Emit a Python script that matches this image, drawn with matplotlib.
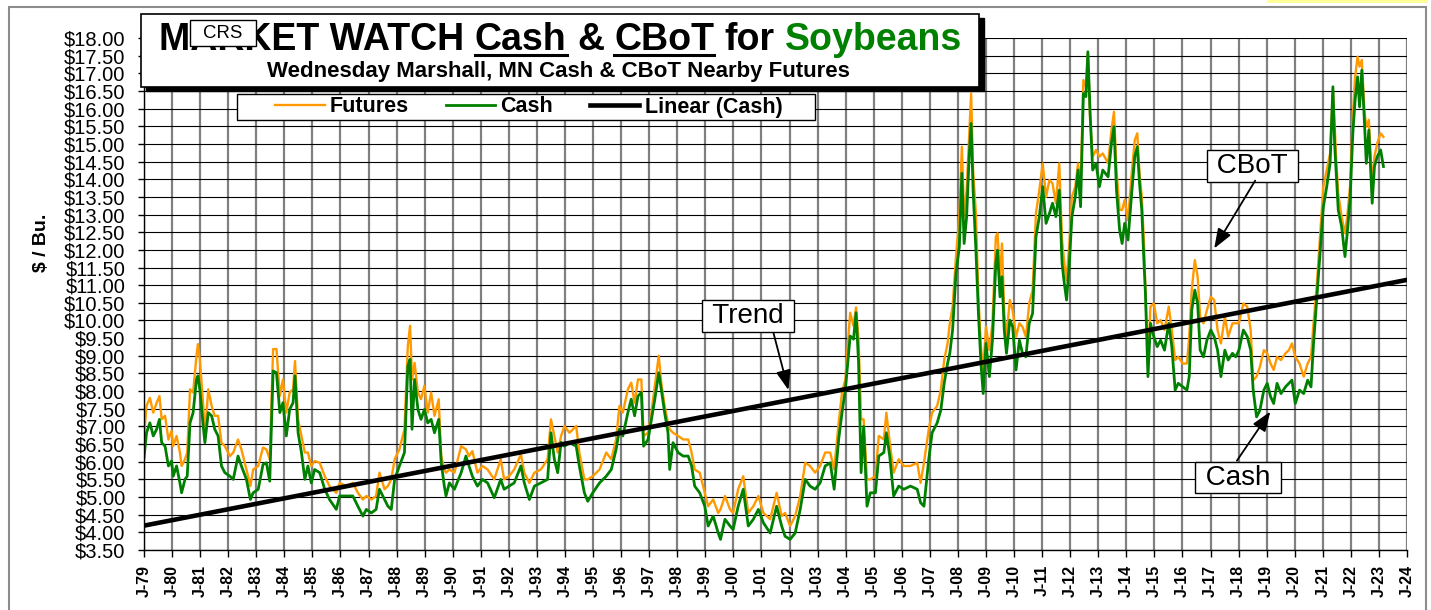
import matplotlib
matplotlib.use('Agg')
import matplotlib.pyplot as plt
from matplotlib.patches import Rectangle
from matplotlib.lines import Line2D

plt.rcParams['font.family'] = ['Liberation Sans', 'DejaVu Sans']

W, H = 1431, 610

# Недельные цены (Маршалл, MN)
dates = [
    1979.00, 1979.09, 1979.21, 1979.33, 1979.45, 1979.55, 1979.63, 1979.75, 1979.87, 1979.98,
    1980.04, 1980.16, 1980.28, 1980.34, 1980.46, 1980.54, 1980.64, 1980.75, 1980.87, 1980.92,
    1980.99, 1981.11, 1981.17, 1981.29, 1981.41, 1981.52, 1981.64, 1981.76, 1981.88, 1982.06,
    1982.18, 1982.35, 1982.47, 1982.65, 1982.79, 1982.89, 1983.07, 1983.24, 1983.36, 1983.48,
    1983.60, 1983.72, 1983.84, 1983.95, 1984.07, 1984.19, 1984.31, 1984.38, 1984.49, 1984.61,
    1984.73, 1984.84, 1984.96, 1985.08, 1985.26, 1985.44, 1985.61, 1985.85, 1985.97, 1986.21,
    1986.44, 1986.62, 1986.80, 1986.92, 1987.10, 1987.27, 1987.39, 1987.57, 1987.69, 1987.81,
    1987.93, 1988.10, 1988.28, 1988.40, 1988.48, 1988.55, 1988.64, 1988.76, 1988.87, 1988.99,
    1989.11, 1989.23, 1989.35, 1989.50, 1989.59, 1989.70, 1989.76, 1989.88, 1990.06, 1990.30,
    1990.47, 1990.58, 1990.70, 1990.88, 1991.06, 1991.24, 1991.48, 1991.71, 1991.83, 1992.01,
    1992.19, 1992.43, 1992.55, 1992.73, 1992.91, 1993.14, 1993.38, 1993.50, 1993.62, 1993.74,
    1993.86, 1993.98, 1994.16, 1994.40, 1994.51, 1994.69, 1994.81, 1994.99, 1995.23, 1995.47,
    1995.65, 1995.82, 1995.94, 1996.06, 1996.24, 1996.36, 1996.48, 1996.60, 1996.72, 1996.80,
    1996.96, 1997.08, 1997.20, 1997.34, 1997.43, 1997.55, 1997.67, 1997.73, 1997.85, 1998.03,
    1998.21, 1998.39, 1998.51, 1998.62, 1998.80, 1998.98, 1999.10, 1999.28, 1999.46, 1999.54,
    1999.70, 1999.88, 1999.99, 2000.17, 2000.35, 2000.53, 2000.71, 2000.89, 2001.07, 2001.31,
    2001.54, 2001.72, 2001.84, 2002.02, 2002.20, 2002.38, 2002.56, 2002.73, 2002.91, 2003.09,
    2003.27, 2003.45, 2003.59, 2003.75, 2003.87, 2003.99, 2004.16, 2004.28, 2004.37, 2004.46,
    2004.55, 2004.64, 2004.76, 2004.88, 2005.06, 2005.18, 2005.36, 2005.45, 2005.57, 2005.71,
    2005.89, 2006.07, 2006.31, 2006.55, 2006.67, 2006.79, 2006.96, 2007.08, 2007.26, 2007.39,
    2007.51, 2007.63, 2007.71, 2007.81, 2007.93, 2008.05, 2008.14, 2008.22, 2008.31, 2008.40,
    2008.47, 2008.54, 2008.64, 2008.73, 2008.82, 2008.90, 2009.00, 2009.12, 2009.23, 2009.35,
    2009.41, 2009.50, 2009.57, 2009.65, 2009.73, 2009.85, 2009.95, 2010.07, 2010.19, 2010.30,
    2010.42, 2010.54, 2010.66, 2010.78, 2010.90, 2011.02, 2011.14, 2011.26, 2011.37, 2011.49,
    2011.61, 2011.71, 2011.79, 2011.87, 2011.97, 2012.06, 2012.18, 2012.28, 2012.37, 2012.47,
    2012.56, 2012.63, 2012.71, 2012.80, 2012.92, 2013.04, 2013.16, 2013.35, 2013.47, 2013.56,
    2013.65, 2013.76, 2013.85, 2013.94, 2014.06, 2014.18, 2014.30, 2014.39, 2014.47, 2014.55,
    2014.63, 2014.68, 2014.77, 2014.86, 2014.98, 2015.10, 2015.22, 2015.36, 2015.51, 2015.62,
    2015.74, 2015.85, 2016.01, 2016.16, 2016.24, 2016.33, 2016.44, 2016.54, 2016.63, 2016.75,
    2016.87, 2017.01, 2017.13, 2017.25, 2017.37, 2017.51, 2017.63, 2017.78, 2017.90, 2018.01,
    2018.17, 2018.31, 2018.43, 2018.52, 2018.64, 2018.76, 2018.90, 2019.02, 2019.14, 2019.25,
    2019.37, 2019.51, 2019.67, 2019.79, 2019.90, 2020.02, 2020.17, 2020.32, 2020.46, 2020.58,
    2020.67, 2020.79, 2020.91, 2021.02, 2021.14, 2021.26, 2021.36, 2021.42, 2021.48, 2021.55,
    2021.67, 2021.79, 2021.87, 2021.97, 2022.07, 2022.15, 2022.24, 2022.31, 2022.39, 2022.48,
    2022.55, 2022.64, 2022.76, 2022.84, 2022.94, 2023.06, 2023.16,
]

futures = [
    6.73, 7.58, 7.81, 7.39, 7.67, 7.86, 7.20, 7.30, 6.63, 6.87,
    6.44, 6.73, 6.26, 5.88, 6.07, 6.26, 8.05, 7.96, 9.00, 9.33,
    8.90, 7.58, 6.73, 8.05, 7.58, 7.30, 7.30, 6.54, 6.44, 6.16,
    6.26, 6.63, 6.35, 5.78, 5.31, 5.78, 5.88, 6.40, 6.35, 6.07,
    9.19, 9.19, 7.86, 8.33, 7.39, 7.96, 8.05, 8.85, 7.20, 6.73,
    6.26, 6.26, 5.88, 6.02, 5.97, 5.59, 5.31, 5.12, 5.40, 5.31,
    5.40, 5.12, 4.93, 5.03, 4.93, 5.03, 5.69, 5.22, 5.31, 5.50,
    6.07, 6.35, 6.92, 9.28, 9.85, 8.33, 8.80, 7.96, 7.77, 8.15,
    7.39, 7.96, 7.30, 7.77, 6.16, 5.78, 5.69, 5.78, 5.69, 6.44,
    6.35, 6.16, 6.30, 5.69, 5.88, 5.78, 5.50, 6.07, 5.50, 5.59,
    5.78, 6.21, 5.69, 5.40, 5.69, 5.78, 6.07, 7.20, 6.73, 6.26,
    6.73, 7.01, 6.82, 7.01, 6.26, 5.50, 5.50, 5.59, 5.78, 6.26,
    6.07, 6.63, 7.58, 7.39, 8.05, 8.24, 7.67, 8.33, 8.33, 6.73,
    6.82, 7.39, 8.15, 9.00, 8.24, 7.58, 7.10, 6.92, 6.82, 6.73,
    6.63, 6.63, 6.26, 5.78, 5.69, 5.12, 4.74, 4.93, 4.55, 4.65,
    5.03, 4.65, 4.55, 5.22, 5.59, 4.55, 4.74, 5.03, 4.55, 4.37,
    5.12, 4.46, 4.55, 4.18, 4.46, 5.03, 5.97, 5.88, 5.69, 5.88,
    6.26, 6.26, 5.78, 7.10, 7.96, 8.33, 10.22, 9.85, 10.37, 9.47,
    7.20, 7.20, 5.50, 5.50, 5.59, 6.73, 6.63, 7.39, 6.54, 5.69,
    6.07, 5.88, 5.88, 5.97, 5.40, 5.97, 6.92, 7.39, 7.58, 8.03,
    8.88, 9.35, 9.92, 10.39, 11.81, 12.94, 14.92, 12.94, 13.69, 15.20,
    16.43, 14.26, 13.03, 10.67, 9.26, 8.60, 9.82, 9.16, 9.92, 12.37,
    12.47, 11.24, 12.18, 10.20, 9.54, 10.58, 10.29, 9.54, 9.92, 9.82,
    9.54, 10.48, 10.86, 13.03, 13.69, 14.45, 13.50, 13.98, 13.88, 13.32,
    14.45, 12.28, 11.62, 11.14, 12.18, 13.50, 13.79, 14.45, 13.79, 16.81,
    16.62, 17.57, 15.68, 14.64, 14.83, 14.64, 14.73, 14.45, 15.39, 15.91,
    14.26, 13.13, 13.13, 13.41, 12.84, 14.07, 15.11, 15.30, 14.17, 13.50,
    12.18, 10.86, 8.78, 10.39, 10.48, 9.92, 10.01, 9.73, 10.39, 9.73,
    8.88, 8.97, 8.78, 8.78, 9.54, 10.86, 11.71, 11.24, 10.11, 9.92,
    10.29, 10.67, 10.58, 9.73, 9.35, 10.11, 9.54, 9.92, 9.92, 9.92,
    10.48, 10.39, 9.73, 8.31, 8.41, 8.69, 9.16, 9.07, 8.78, 8.60,
    8.97, 8.88, 9.07, 9.16, 9.35, 8.97, 8.78, 8.41, 8.78, 8.97,
    9.92, 11.05, 12.47, 13.79, 14.26, 14.73, 16.53, 15.58, 14.54, 13.60,
    12.94, 12.47, 12.94, 13.79, 15.77, 16.90, 17.47, 17.19, 17.38, 15.96,
    15.49, 15.68, 13.79, 14.64, 15.02, 15.30, 15.20,
]

cash = [
    6.11, 6.82, 7.10, 6.73, 6.92, 7.20, 6.54, 6.44, 5.88, 6.02,
    5.59, 5.88, 5.40, 5.12, 5.50, 5.59, 7.10, 7.39, 8.33, 8.43,
    8.05, 7.00, 6.54, 7.39, 7.30, 6.92, 6.73, 5.88, 5.69, 5.59,
    5.50, 6.16, 5.88, 5.50, 4.93, 5.12, 5.22, 5.92, 5.97, 5.45,
    8.57, 8.52, 7.39, 7.67, 6.73, 7.48, 7.67, 8.43, 6.82, 6.26,
    5.50, 5.88, 5.40, 5.78, 5.69, 5.22, 4.93, 4.65, 5.03, 5.03,
    5.03, 4.74, 4.46, 4.65, 4.55, 4.65, 5.22, 4.93, 4.74, 4.65,
    5.50, 5.88, 6.26, 8.71, 8.90, 6.92, 8.33, 7.48, 7.20, 7.48,
    7.10, 7.20, 6.82, 7.20, 5.97, 5.31, 5.03, 5.40, 5.22, 5.69,
    6.16, 5.88, 5.59, 5.31, 5.50, 5.40, 4.98, 5.50, 5.22, 5.31,
    5.40, 5.88, 5.40, 4.93, 5.31, 5.40, 5.50, 6.82, 6.07, 5.69,
    6.55, 6.44, 6.54, 6.44, 5.88, 5.12, 4.88, 5.12, 5.40, 5.59,
    5.78, 6.35, 6.92, 6.73, 7.39, 7.77, 7.30, 7.86, 7.96, 6.44,
    6.63, 7.20, 7.77, 8.52, 8.05, 7.39, 6.82, 5.78, 6.54, 6.26,
    6.16, 6.16, 5.88, 5.31, 5.12, 4.74, 4.18, 4.46, 3.98, 3.80,
    4.37, 4.18, 4.08, 4.74, 5.22, 4.18, 4.37, 4.65, 4.27, 3.98,
    4.74, 4.18, 3.89, 3.80, 3.98, 4.65, 5.50, 5.31, 5.22, 5.40,
    5.88, 5.97, 5.22, 6.63, 7.39, 8.05, 9.56, 9.47, 10.22, 8.80,
    5.69, 7.00, 4.74, 5.12, 5.12, 6.16, 6.26, 6.82, 6.16, 5.03,
    5.31, 5.22, 5.31, 5.22, 4.84, 4.74, 6.07, 6.82, 7.10, 7.46,
    8.22, 8.78, 9.07, 9.73, 11.33, 12.09, 14.17, 12.18, 12.94, 14.64,
    15.58, 13.69, 12.00, 10.20, 8.78, 7.93, 9.35, 8.41, 9.44, 11.62,
    11.99, 10.67, 11.24, 9.73, 9.07, 10.01, 9.82, 8.60, 9.44, 9.07,
    8.97, 9.92, 10.20, 12.37, 12.94, 13.79, 12.75, 13.03, 13.32, 12.94,
    13.69, 11.62, 11.05, 10.58, 11.62, 12.94, 13.50, 14.26, 13.22, 16.43,
    16.34, 17.61, 15.87, 14.26, 14.45, 13.79, 14.26, 14.07, 15.02, 15.49,
    13.69, 12.56, 12.18, 12.75, 12.28, 13.50, 14.64, 14.92, 13.88, 13.13,
    11.62, 10.77, 8.41, 9.92, 9.54, 9.26, 9.44, 9.16, 9.92, 9.26,
    8.03, 8.22, 8.12, 8.03, 8.41, 10.29, 10.86, 10.48, 9.16, 8.97,
    9.44, 9.73, 9.54, 9.16, 8.41, 9.16, 8.88, 9.07, 8.97, 9.16,
    9.73, 9.54, 9.16, 8.03, 7.27, 7.46, 8.03, 8.22, 7.84, 7.65,
    8.22, 7.93, 8.12, 8.22, 8.31, 7.65, 8.03, 7.93, 8.31, 8.12,
    9.35, 10.67, 11.99, 13.22, 13.79, 14.45, 16.62, 15.02, 14.17, 13.13,
    12.66, 11.81, 12.47, 13.41, 15.30, 16.24, 16.90, 16.05, 17.09, 15.68,
    14.45, 15.39, 13.32, 14.36, 14.64, 14.83, 14.36,
]

# Линейный тренд по Cash (концы линии)
trend_years = [1979, 2024]
trend_cash = [4.19, 11.15]

year_ticks = list(range(1979, 2025))
year_labels = ['J-%02d' % (y % 100) for y in year_ticks]
price_ticks = [3.5 + 0.5 * i for i in range(30)]
price_labels = ['$%.2f' % p for p in price_ticks]

ORANGE = '#FF9900'
GREEN = '#008000'


def fx(x):
    return x / W


def fy(y):
    return 1 - y / H


fig = plt.figure(figsize=(W / 100, H / 100), dpi=100)
renderer = fig.canvas.get_renderer()

# Рамка всей картинки
fig.patches.append(Rectangle((fx(9), fy(618)), fx(1426) - fx(9), fy(7) - fy(618),
                             transform=fig.transFigure, fill=False, ec='#8c8c8c', lw=1.5))
fig.patches.append(Rectangle((fx(1267), fy(3)), fx(1428) - fx(1267), fy(0) - fy(3),
                             transform=fig.transFigure, fc='#ffff99', ec='none'))

ax = fig.add_axes([fx(144), fy(550), fx(1407) - fx(144), fy(38) - fy(550)])
ax.plot(dates, futures, color=ORANGE, lw=1.7, label='Futures')
ax.plot(dates, cash, color=GREEN, lw=2.0, label='Cash')
ax.plot(trend_years, trend_cash, color='black', lw=3.3, label='Linear (Cash)')

ax.set_xlim(1979, 2024)
ax.set_ylim(3.5, 18)
ax.set_xticks(year_ticks)
ax.set_xticklabels(year_labels, rotation=90, fontsize=11.5, fontweight='bold')
ax.set_yticks(price_ticks)
ax.set_yticklabels(price_labels, fontsize=14.5)
ax.tick_params(axis='x', direction='out', length=5, width=1, pad=5.5)
ax.tick_params(axis='y', direction='out', length=4.3, width=1, pad=9)
ax.grid(axis='x', color='#808080', lw=1.6)
ax.grid(axis='y', color='black', lw=0.8)
ax.set_axisbelow(True)
for s in ['top', 'right']:
    ax.spines[s].set_visible(False)
for s in ['left', 'bottom']:
    ax.spines[s].set_color('black')
    ax.spines[s].set_linewidth(1)

fig.text(fx(42), fy(243), '$ / Bu.', rotation=90, fontsize=14, fontweight='bold',
         ha='center', va='center')

# Подписи со стрелками
box = dict(boxstyle='square,pad=0.1', fc='white', ec='black', lw=1)
arrow = dict(arrowstyle='-|>,head_length=0.8,head_width=0.3', color='black', lw=1.3,
             mutation_scale=15, shrinkA=0, shrinkB=0)
ax.text(2000.51, 10.12, ' Trend ', fontsize=20, ha='center', va='center', bbox=box, zorder=6)
ax.annotate('', xy=(2001.96, 8.03), xytext=(2001.43, 9.64), arrowprops=arrow, zorder=6)
ax.text(2018.49, 14.38, ' CBoT ', fontsize=20, ha='center', va='center', bbox=box, zorder=6)
ax.annotate('', xy=(2017.13, 12.04), xytext=(2018.59, 13.96), arrowprops=arrow, zorder=6)
ax.text(2017.97, 5.55, ' Cash ', fontsize=20, ha='center', va='center', bbox=box, zorder=6)
ax.annotate('', xy=(2019.13, 7.42), xytext=(2017.94, 6.03), arrowprops=arrow, zorder=6)

# Блок заголовка с тенью
fig.patches.append(Rectangle((fx(146), fy(91)), fx(984) - fx(146), fy(18) - fy(91),
                             transform=fig.transFigure, fc='black', ec='black', zorder=1))
fig.patches.append(Rectangle((fx(141), fy(86.5)), fx(979) - fx(141), fy(14) - fy(86.5),
                             transform=fig.transFigure, fc='white', ec='black', lw=1.2, zorder=1.1))


def text_width(s, size):
    t = fig.text(0, 0, s, fontsize=size, fontweight='bold')
    w = t.get_window_extent(renderer).width
    t.remove()
    return w


def title_row(pieces, x_center, y_base, size):
    gap = text_width('M M', size) - text_width('MM', size)
    widths = [text_width(p[0], size) for p in pieces]
    total = sum(widths) + gap * (len(pieces) - 1)
    x = x_center - total / 2
    for (s, color, under), w in zip(pieces, widths):
        fig.text(fx(x), fy(y_base), s, fontsize=size, fontweight='bold', color=color,
                 ha='left', va='baseline', zorder=3)
        if under:
            fig.lines.append(Line2D([fx(x), fx(x + w)], [fy(y_base + 5.5), fy(y_base + 5.5)],
                                    transform=fig.transFigure, color=color, lw=2.2, zorder=3))
        x += w + gap


title_row([('MARKET WATCH', 'black', False), ('Cash', 'black', True), ('&', 'black', False),
           ('CBoT', 'black', True), ('for', 'black', False), ('Soybeans', GREEN, False)],
          561, 49.5, 27)
fig.text(fx(558.5), fy(77.5), 'Wednesday Marshall, MN Cash & CBoT Nearby Futures',
         fontsize=16, fontweight='bold', ha='center', va='baseline', zorder=3)

# Метка CRS поверх заголовка
fig.patches.append(Rectangle((fx(190), fy(46)), fx(256) - fx(190), fy(20) - fy(46),
                             transform=fig.transFigure, fc='white', ec='black', lw=1, zorder=4))
fig.text(fx(223), fy(33), 'CRS', fontsize=13.4, ha='center', va='center', zorder=5)

# Легенда
fig.patches.append(Rectangle((fx(237), fy(120)), fx(815) - fx(237), fy(94) - fy(120),
                             transform=fig.transFigure, fc='white', ec='black', lw=1, zorder=1))
handles, labels = ax.get_legend_handles_labels()
leg = fig.legend(handles, labels, loc='center left', bbox_to_anchor=(fx(275), fy(107)),
                 ncol=3, frameon=False, prop={'weight': 'bold', 'size': 15.5},
                 handlelength=2.3, handletextpad=0.25, columnspacing=1.7,
                 borderpad=0, borderaxespad=0)
leg.set_zorder(5)

plt.savefig('out.png', dpi=100)
